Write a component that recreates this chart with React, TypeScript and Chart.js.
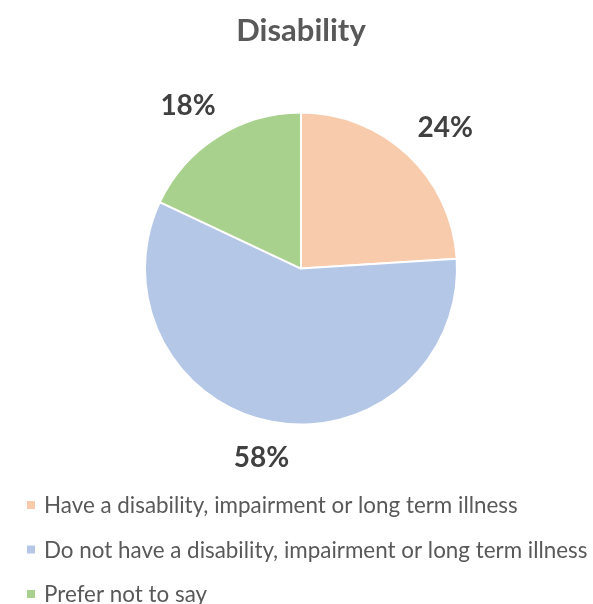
import React, { useEffect, useRef } from "react";
import { Chart, registerables } from "chart.js";

Chart.register(...registerables);

const TITLE = "Disability";
const categories = [
  "Have a disability, impairment or long term illness",
  "Do not have a disability, impairment or long term illness",
  "Prefer not to say",
];
const values = [24, 58, 18];
const colors = ["#F8CBAD", "#B4C7E7", "#A9D18E"];

const FONT = "Lato, 'Open Sans', sans-serif";

const labelPlugin = {
  id: "outsideLabels",
  afterDatasetsDraw(chart: any) {
    const ctx = chart.ctx;
    const meta = chart.getDatasetMeta(0);
    const data = chart.data.datasets[0].data as number[];
    const total = data.reduce((a: number, b: number) => a + b, 0);
    ctx.save();
    ctx.font = `bold 28px ${FONT}`;
    ctx.fillStyle = "#404040";
    ctx.textAlign = "center";
    ctx.textBaseline = "middle";
    meta.data.forEach((arc: any, i: number) => {
      const { x, y, startAngle, endAngle, outerRadius } = arc.getProps(
        ["x", "y", "startAngle", "endAngle", "outerRadius"],
        true
      );
      const mid = (startAngle + endAngle) / 2;
      const pct = Math.round((data[i] / total) * 100) + "%";
      const w = ctx.measureText(pct).width;
      const h = 20;
      const c = Math.cos(mid);
      const s = Math.sin(mid);
      const d = outerRadius + 27;
      ctx.fillText(pct, x + c * d + (w / 2) * c, y + s * d + (h / 2) * s);
    });
    ctx.restore();
  },
};

const legendPlugin = {
  id: "listLegend",
  afterDraw(chart: any) {
    const ctx = chart.ctx;
    const labels = chart.data.labels as string[];
    const bg = chart.data.datasets[0].backgroundColor as string[];
    ctx.save();
    ctx.font = `22.4px ${FONT}`;
    ctx.textAlign = "left";
    ctx.textBaseline = "middle";
    labels.forEach((lab, i) => {
      const cy = 505 + i * 44.5;
      ctx.fillStyle = bg[i];
      ctx.fillRect(27, cy - 4, 8, 8);
      ctx.fillStyle = "#595959";
      ctx.fillText(lab, 44, cy + 1);
    });
    ctx.restore();
  },
};

export default function App() {
  const ref = useRef<HTMLCanvasElement | null>(null);
  useEffect(() => {
    if (!ref.current) return;
    const chart = new Chart(ref.current, {
      type: "pie",
      data: {
        labels: categories,
        datasets: [
          {
            data: values,
            backgroundColor: colors,
            borderColor: "#FFFFFF",
            borderWidth: 2,
          },
        ],
      },
      options: {
        responsive: false,
        animation: false,
        radius: 156,
        layout: { padding: { top: 2, left: 9, right: 0, bottom: 126 } },
        plugins: {
          legend: { display: false },
          tooltip: { enabled: false },
          title: {
            display: true,
            text: TITLE,
            color: "#595959",
            font: { family: FONT, size: 31, weight: "bold", lineHeight: 1.2 },
            padding: { top: 10, bottom: 10 },
          },
        },
      } as any,
      plugins: [labelPlugin, legendPlugin],
    });
    return () => chart.destroy();
  }, []);
  return (
    <div style={{ position: "fixed", left: 0, top: 0, width: 593, height: 604, background: "#fff" }}>
      <canvas ref={ref} width={593} height={604} style={{ display: "block" }} />
    </div>
  );
}
